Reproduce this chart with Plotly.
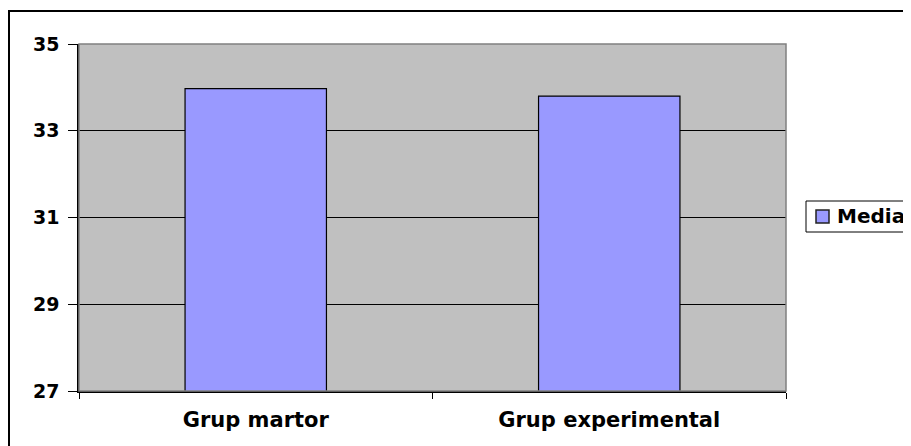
import plotly.graph_objects as go

categories = ["Grup martor", "Grup experimental"]
media_values = [33.97, 33.8]
y_ticks = [27, 29, 31, 33, 35]
series_name = "Media"

FONT = "DejaVu Sans"
BAR_COLOR = "#9999FF"

# page body has an 8px margin, so the figure is sized/offset to compensate
W, H = 903, 438
PL, PR, PT, PB = 79, 786, 44, 391  # target plot-area edges in page pixels
PW, PH = PR - PL, PB - PT


def px(x):
    return (x - PL) / PW


def py(y):
    return (PB - y) / PH


fig = go.Figure()
fig.add_trace(go.Bar(
    x=categories,
    y=media_values,
    name=series_name,
    marker=dict(color=BAR_COLOR, line=dict(color="black", width=1.2)),
    showlegend=False,
))

fig.update_layout(
    width=W,
    height=H,
    margin=dict(l=PL - 8, r=W - (PR - 8), t=PT - 8, b=H - (PB - 8), autoexpand=False),
    paper_bgcolor="white",
    plot_bgcolor="#C0C0C0",
    bargap=0.6,
    font=dict(family=FONT, size=20, color="black", weight="bold"),
    showlegend=False,
    xaxis=dict(
        type="category",
        showgrid=False,
        showline=True,
        linecolor="black",
        linewidth=1.5,
        ticks="outside",
        tickson="boundaries",
        ticklen=6,
        tickcolor="black",
        tickwidth=1.2,
        ticklabelstandoff=9,
        tickfont=dict(family=FONT, size=21, color="black", weight="bold"),
    ),
    yaxis=dict(
        range=[27, 35],
        tickvals=y_ticks,
        showgrid=True,
        gridcolor="black",
        gridwidth=1,
        showline=True,
        linecolor="black",
        linewidth=1.5,
        ticks="outside",
        ticklen=9,
        tickcolor="black",
        tickwidth=1.2,
        ticklabelstandoff=5,
        zeroline=False,
        tickfont=dict(family=FONT, size=19, color="black", weight="bold"),
    ),
    shapes=[
        # gray plot-area border (top/right)
        dict(type="rect", xref="paper", yref="paper", x0=0, x1=1, y0=0, y1=1,
             line=dict(color="#808080", width=1.5), fillcolor="rgba(0,0,0,0)", layer="above"),
        # outer chart border
        dict(type="rect", xref="paper", yref="paper",
             x0=px(9), x1=px(960), y0=py(500), y1=py(11),
             line=dict(color="black", width=2), fillcolor="rgba(0,0,0,0)"),
        # legend box
        dict(type="rect", xref="paper", yref="paper",
             x0=px(806), x1=px(960), y0=py(232), y1=py(201),
             line=dict(color="black", width=1), fillcolor="white"),
        # legend symbol
        dict(type="rect", xref="paper", yref="paper",
             x0=px(816), x1=px(829), y0=py(223), y1=py(210),
             line=dict(color="#222222", width=1.5), fillcolor=BAR_COLOR),
    ],
    annotations=[
        dict(text=series_name, xref="paper", yref="paper",
             x=px(835), y=py(216.5), xanchor="left", yanchor="middle",
             showarrow=False,
             font=dict(family=FONT, size=20, color="black", weight="bold")),
    ],
)

fig.write_html("out.html")
